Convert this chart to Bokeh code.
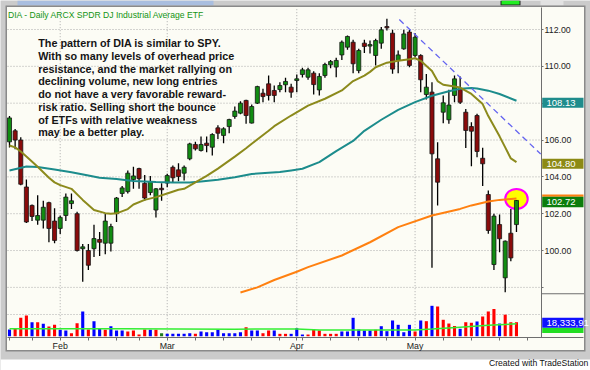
from bokeh.plotting import figure
from bokeh.models import Range1d, FixedTicker, Label, BoxAnnotation, ColumnDataSource, NumeralTickFormatter, LinearAxis
from bokeh.embed import file_html
from bokeh.resources import INLINE
import pandas as pd

# ---------------- data ----------------
dates = ["2010-01-19","2010-01-20","2010-01-21","2010-01-22","2010-01-25","2010-01-26","2010-01-27","2010-01-28","2010-01-29",
         "2010-02-01","2010-02-02","2010-02-03","2010-02-04","2010-02-05","2010-02-08","2010-02-09","2010-02-10","2010-02-11",
         "2010-02-12","2010-02-16","2010-02-17","2010-02-18","2010-02-19","2010-02-22","2010-02-23","2010-02-24","2010-02-25",
         "2010-02-26","2010-03-01","2010-03-02","2010-03-03","2010-03-04","2010-03-05","2010-03-08","2010-03-09","2010-03-10",
         "2010-03-11","2010-03-12","2010-03-15","2010-03-16","2010-03-17","2010-03-18","2010-03-19","2010-03-22","2010-03-23",
         "2010-03-24","2010-03-25","2010-03-26","2010-03-29","2010-03-30","2010-03-31","2010-04-01","2010-04-05","2010-04-06",
         "2010-04-07","2010-04-08","2010-04-09","2010-04-12","2010-04-13","2010-04-14","2010-04-15","2010-04-16","2010-04-19",
         "2010-04-20","2010-04-21","2010-04-22","2010-04-23","2010-04-26","2010-04-27","2010-04-28","2010-04-29","2010-04-30",
         "2010-05-03","2010-05-04","2010-05-05","2010-05-06","2010-05-07","2010-05-10","2010-05-11","2010-05-12","2010-05-13",
         "2010-05-14","2010-05-17","2010-05-18","2010-05-19","2010-05-20","2010-05-21","2010-05-24","2010-05-25","2010-05-26",
         "2010-05-27"]

opens = [105.9,106.5,106.0,103.45,102.45,101.65,101.65,102.6,101.6,
         101.2,101.9,102.55,102.0,100.1,100.0,100.1,100.6,100.4,100.4,102.0,103.1,103.2,103.85,104.45,103.65,103.15,102.2,103.38,
         103.66,104.52,104.38,104.2,104.98,105.76,105.43,105.83,105.61,106.66,106.25,106.73,107.28,107.46,108.15,106.92,108.0,
         108.54,109.05,108.69,108.74,109.0,108.87,
         109.23,109.56,109.41,109.63,108.72,109.5,110.08,109.96,110.62,111.04,111.31,109.77,111.26,111.1,110.59,111.26,112.16,
         111.8,110.32,110.95,111.86,
         110.59,110.59,108.47,108.6,104.98,107.51,107.1,108.42,108.78,107.51,106.73,107.33,105.01,103.04,99.24,101.41,98.52,
         100.94,101.41]
highs = [107.3,106.6,106.15,103.85,102.5,103.0,102.7,102.65,102.3,
         101.9,103.1,103.1,102.1,100.35,100.35,101.4,101.0,102.0,101.45,102.9,103.5,104.35,104.55,104.5,104.1,104.05,103.4,103.65,
         104.17,104.62,104.74,104.62,105.85,105.9,106.19,106.19,106.37,106.8,106.7,107.15,107.82,108.1,108.18,107.93,108.95,
         108.78,109.5,108.96,109.14,109.38,109.05,
         109.56,109.92,109.92,109.74,109.63,110.19,110.35,110.46,111.4,111.67,111.44,110.95,111.44,111.4,111.5,112.13,112.58,
         111.98,110.86,111.98,111.98,
         111.8,110.65,109.59,109.14,105.88,108.42,108.73,109.5,109.45,107.69,106.97,107.42,105.58,103.26,102.0,101.96,100.55,
         102.26,102.75]
lows = [105.6,105.5,103.55,101.5,101.6,101.4,101.2,100.45,100.4,
        100.9,101.6,102.25,99.95,98.3,98.95,99.65,99.7,99.8,99.95,101.55,102.9,103.1,103.35,103.35,102.7,103.0,101.8,102.7,
        103.44,103.7,103.76,103.8,104.9,105.43,105.38,105.34,105.16,106.06,105.83,106.37,107.15,107.4,106.88,106.9,107.95,
        108.05,108.15,108.05,108.6,108.6,108.29,
        108.6,109.4,109.27,108.47,108.42,109.38,109.9,109.41,110.35,110.9,109.63,109.63,110.72,110.7,110.05,110.95,111.95,
        109.6,109.63,110.9,109.95,
        110.5,108.6,108.2,99.06,102.45,106.91,106.88,108.05,107.95,105.56,104.58,105.07,103.5,100.91,98.95,99.91,97.74,
        99.42,101.0]
closes = [107.2,106.0,103.6,101.55,101.85,101.9,102.35,101.2,100.55,
          101.8,102.9,102.7,100.0,100.2,99.2,100.65,100.45,101.6,101.3,102.85,103.4,104.2,104.05,103.9,102.85,103.75,103.35,103.3,
          104.07,103.95,104.02,104.52,105.79,105.52,105.76,105.7,106.3,106.37,106.61,107.11,107.57,108.0,107.33,107.82,108.9,
          108.36,108.42,108.42,108.96,109.18,108.6,
          109.32,109.81,109.81,109.01,109.45,110.1,110.26,110.32,111.31,111.62,110.14,110.86,111.08,111.18,111.4,111.98,112.09,
          109.85,110.62,111.76,110.05,
          111.58,109.27,108.87,105.25,103.71,108.02,107.9,109.32,108.05,106.52,106.48,105.38,104.71,101.09,101.87,100.64,100.51,
          99.6,102.72]

# volume in millions of shares, and bar colour class (u = up close, d = down close, n = unchanged)
volume = [8.8,9.7,24.1,27.1,18.3,18.3,16.2,12.7,14.9,
          8.4,7.5,3.9,17.0,32.4,8.8,19.7,10.5,8.4,13.1,7.5,7.5,6.2,7.5,2.2,8.8,8.4,8.4,3.9,
          3.1,3.1,3.1,3.1,3.9,3.1,6.2,5.2,5.2,8.4,3.9,3.9,3.9,5.2,11.8,7.5,7.5,3.9,7.5,7.5,3.1,3.1,3.1,
          10.5,2.2,2.2,8.8,7.5,3.1,3.1,3.1,6.2,6.2,24.1,8.8,7.5,7.5,8.4,13.1,6.6,20.6,14.9,5.2,14.9,
          6.2,20.6,19.7,39.8,38.9,21.5,16.6,13.4,9.7,18.3,17.6,19.3,25.8,32.4,35.6,16.6,28.2,18.3,18.33]
vol_dir = list("udddudu" "dd" "uudduduud" "uuuddddudn" "uuuuuduuuuuuuud" "uuddudduu"
               "udddddd" "uuuuuuduuuuuudud"
               "uddddudduddduddddudddu")

# moving averages (bar index -> value)
ma_fast_idx = [0,1,2,3,5,7,8,9,11,13,15,17,18,19,21,22,24,26,28,30,31,33,35,37,40,42,43,46,47,50,53,56,59,61,63,64,65,67,69,71,72,73,75,76,77,79,80,82,84,85,87,88,89,90]
ma_fast_val = [105.7,105.6,105.38,105.1,104.55,103.95,103.7,103.55,103.35,102.75,102.2,102.03,102.0,102.02,102.25,102.5,102.75,102.9,103.1,103.3,103.35,103.7,104.05,104.45,105.1,105.55,105.8,106.5,106.75,107.33,107.87,108.24,108.69,109.2,109.5,109.7,109.95,110.2,110.3,110.38,110.44,110.3,109.75,109.2,109.0,108.9,108.85,108.5,107.95,107.3,106.2,105.6,105.0,104.8]
ma_mid_idx = [0,3,5,8,11,14,16,19,22,26,29,32,34,37,40,43,46,48,50,52,55,58,61,63,66,69,72,75,78,80,82,83,85,87,90]
ma_mid_val = [104.35,104.56,104.53,104.4,104.25,104.07,103.95,103.89,103.78,103.72,103.7,103.7,103.75,103.84,103.98,104.16,104.22,104.26,104.35,104.44,104.8,105.4,105.95,106.5,107.1,107.64,108.06,108.4,108.65,108.78,108.82,108.8,108.68,108.5,108.13]
ma_slow_idx = [41,44,47,51,53,59,64,69,75,80,82,85,87,90]
ma_slow_val = [97.72,98.0,98.4,98.85,99.1,99.73,100.45,101.27,101.9,102.26,102.45,102.66,102.75,102.83]
vol_ma_idx = [0,20,40,51,55,65,72,75,80,85,90]
vol_ma_val = [9.7,9.7,9.2,9.5,8.0,8.0,8.2,9.5,11.8,14.2,16.2]

trend_idx = [69.2, 94.3]
trend_val = [112.54, 105.24]
mark_idx, mark_val = 90, 102.8

price_ticks = [98, 100, 102, 104, 106, 108, 110, 112]
vol_grid = [28.4]
last_labels = {"mid": "108.13", "fast": "104.80", "close": "102.72", "vol": "18,333,91"}

note = ["The pattern of DIA is similar to SPY.",
        "With so many levels of overhead price",
        "resistance, and the market rallying on",
        "declining volume, new long entries",
        "do not have a very favorable reward-",
        "risk ratio.  Selling short the bounce",
        "of ETFs with relative weakness",
        "may be a better play."]

# ---------------- layout: the frame covers the whole canvas ----------------
W, H = 590, 370
PX_BAR = 5.633      # pixels per trading day
PX_PT = 18.42       # pixels per price point
VOL_PX = 1.31       # million shares per pixel

def dx(x):            # canvas x -> bar index
    return (x - 9.0) / PX_BAR

def dy(y):            # canvas y -> price
    return 112.0 - (y - 29.0) / PX_PT

def dvol(y):          # canvas y -> volume
    return (335.7 - y) * VOL_PX

CREAM = "#FCFCF5"
GRAY = "#CBCBCB"
DARK = "#8A8A8A"
GRID = "#ABABAB"
FONT = "Liberation Sans"

p = figure(width=W, height=H, output_backend="svg", toolbar_location=None,
           x_range=Range1d(dx(0), dx(W)), y_range=Range1d(dy(H), dy(0)),
           x_axis_location=None, y_axis_location=None,
           min_border=0, min_border_left=0, min_border_right=0, min_border_top=0, min_border_bottom=0,
           background_fill_color=GRAY, border_fill_color=GRAY, outline_line_color=None)
p.extra_y_ranges = {"vol": Range1d(dvol(H), dvol(0))}
p.grid.visible = False

def box(x1, x2, y1, y2, color, level="underlay"):
    p.add_layout(BoxAnnotation(left=dx(x1), right=dx(x2), top=dy(y1), bottom=dy(y2),
                               fill_color=color, fill_alpha=1.0, line_color=None, level=level))

# window chrome
box(17, 213, 0, 5, "#A9BEDF")
box(500, 520, 0, 5, "#222222")
box(501, 519, 0, 4, "#22EE22")
box(540, 563, 0, 5, "#E2E2E2")
box(5, 585, 5, 351, DARK)
box(6.5, 583.5, 6.5, 349.5, CREAM)
box(0, W, 359, H, "#FFFFFF")

idx = list(range(len(dates)))
dts = pd.to_datetime(dates)
month_starts = [i for i in idx if i > 0 and dts[i].month != dts[i - 1].month]
week_starts = [i for i in idx if i > 0 and dts[i].weekday() < dts[i - 1].weekday()]
x_ticks = sorted(set([0] + week_starts + month_starts + [len(dates) + 1]))
x_labels = {t: "" for t in x_ticks}
for m in month_starts:
    x_labels[m] = dts[m].strftime("%b")

# dotted grid lines, limited to the chart panel
p.segment(x0=month_starts, y0=dy(336.7), x1=month_starts, y1=dy(7),
          line_color=GRID, line_dash="1 2", line_width=1)
p.segment(x0=dx(7), y0=price_ticks, x1=dx(541), y1=price_ticks,
          line_color=GRID, line_dash="1 2", line_width=1)
p.segment(x0=dx(7), y0=vol_grid, x1=dx(541), y1=vol_grid, y_range_name="vol",
          line_color=GRID, line_dash="1 2", line_width=1)

# axes drawn at fixed positions inside the canvas
xaxis = LinearAxis(fixed_location=dy(336.7), bounds=(dx(7), dx(583)),
                   ticker=FixedTicker(ticks=x_ticks), major_label_overrides=x_labels)
yaxis = LinearAxis(fixed_location=dx(541), bounds=(dy(336.7), dy(7)),
                   ticker=FixedTicker(ticks=price_ticks),
                   formatter=NumeralTickFormatter(format="0.00"),
                   major_label_overrides={98: ""})
for ax in (xaxis, yaxis):
    ax.axis_line_color = "#6E6E6E"
    ax.major_tick_line_color = "#6E6E6E"
    ax.major_tick_out = 3
    ax.major_tick_in = 0
    ax.minor_tick_line_color = None
    ax.major_label_text_font = FONT
    ax.major_label_text_font_size = "8.8px"
    ax.major_label_text_color = "#222222"
yaxis.major_tick_out = 2
yaxis.major_label_standoff = 1
xaxis.major_label_standoff = 1
p.add_layout(xaxis, "below")
p.add_layout(yaxis, "right")

# volume
vcol = {"u": "#0000FF", "d": "#FF0000", "n": "#1E7A1E"}
p.vbar(x=idx, top=volume, bottom=0, width=0.55, y_range_name="vol",
       fill_color=[vcol[v] for v in vol_dir], line_color=None)
p.line(vol_ma_idx, vol_ma_val, y_range_name="vol", line_color="#33EE33", line_width=1.5)

# highlight ellipse
p.ellipse(x=[mark_idx], y=[mark_val], width=4.0, height=1.09,
          fill_color="#FFFF00", line_color="#FF00FF", line_width=2)

# candles
UP, DN = "#118C11", "#8A0B0B"
src = ColumnDataSource(dict(
    x=idx, h=highs, l=lows,
    t=[max(o, c) for o, c in zip(opens, closes)],
    b=[min(o, c) for o, c in zip(opens, closes)],
    col=[UP if c >= o else DN for o, c in zip(opens, closes)]))
p.segment("x", "h", "x", "l", source=src, line_color="#000000", line_width=1.3)
p.vbar(x="x", top="t", bottom="b", width=0.72, source=src,
       fill_color="col", line_color="#151515", line_width=0.8)

# moving averages & trend line
p.line(ma_mid_idx, ma_mid_val, line_color="#1C8C8C", line_width=2)
p.line(ma_fast_idx, ma_fast_val, line_color="#8C8A1C", line_width=2)
p.line(ma_slow_idx, ma_slow_val, line_color="#FF8010", line_width=2)
p.line(trend_idx, trend_val, line_color="#6464F0", line_width=1.3, line_dash="6 4")

# separator in the axis area
box(541, 583.5, 292.8, 293.8, "#6E6E6E", level="annotation")

# value tags on the price axis
def tag(y1, y2, color, text):
    box(541.7, 583, y1, y2, color, level="annotation")
    if text:
        p.add_layout(Label(x=dx(546), y=dy((y1 + y2) / 2), text=text, text_font=FONT,
                           text_font_size="9.5px", text_color="#FFFFFF",
                           text_baseline="middle", text_align="left"))

tag(97.3, 107.3, "#1F8C8C", last_labels["mid"])
tag(158.3, 168.3, "#8C8A14", last_labels["fast"])
tag(194.0, 196.2, "#FF8010", "")
tag(196.2, 206.7, "#0B7D0B", last_labels["close"])
tag(327.3, 332.5, "#22DD22", "")
tag(317.3, 327.3, "#1010FF", last_labels["vol"])

# texts
p.add_layout(Label(x=dx(7.5), y=dy(14.0), text="DIA - Daily  ARCX  SPDR DJ Industrial Average ETF",
                   text_font=FONT, text_font_size="8.6px", text_color="#139413",
                   text_baseline="middle", text_align="left"))
for k, line in enumerate(note):
    p.add_layout(Label(x=dx(37.7), y=dy(42.7 + 12.75 * k), text=line, text_font=FONT,
                       text_font_style="bold", text_font_size="10.8px", text_color="#151515",
                       text_baseline="middle", text_align="left"))
p.add_layout(Label(x=dx(588), y=dy(362.5), text="Created with TradeStation", text_font=FONT,
                   text_font_size="8.6px", text_color="#111111",
                   text_baseline="middle", text_align="right"))

open("out.html", "w").write(file_html(p, INLINE))
